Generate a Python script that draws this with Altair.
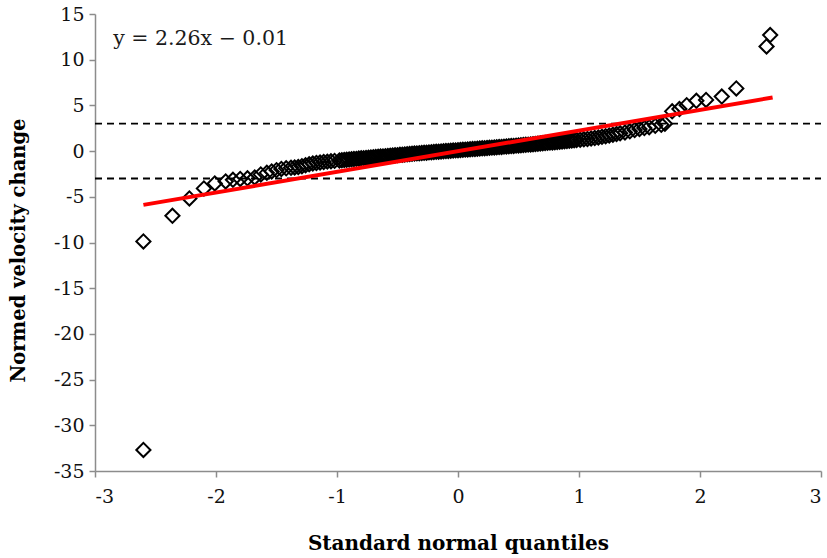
import altair as alt
import pandas as pd

# Normal Q-Q plot of normed velocity change
# theoretical standard normal quantiles (x) and ordered sample values (y)
quantile_x = [
    -2.60, -2.60, -2.36, -2.22, -2.10, -2.01, -1.92, -1.86, -1.80, -1.74, -1.68,
    -1.63, -1.58, -1.54, -1.50, -1.46, -1.42, -1.38, -1.35, -1.32, -1.29, -1.26,
    -1.23, -1.20, -1.17, -1.14, -1.11, -1.08, -1.05, -1.02,
    -0.98, -0.96, -0.94, -0.92, -0.90, -0.88, -0.86, -0.84, -0.82, -0.80,
    -0.78, -0.76, -0.74, -0.72, -0.70, -0.68, -0.66, -0.64, -0.62, -0.60,
    -0.58, -0.56, -0.54, -0.52, -0.50, -0.48, -0.46, -0.44, -0.42, -0.40,
    -0.38, -0.36, -0.34, -0.32, -0.30, -0.28, -0.26, -0.24, -0.22, -0.20,
    -0.18, -0.16, -0.14, -0.12, -0.10, -0.08, -0.06, -0.04, -0.02, 0.00,
    0.02, 0.04, 0.06, 0.08, 0.10, 0.12, 0.14, 0.16, 0.18, 0.20,
    0.22, 0.24, 0.26, 0.28, 0.30, 0.32, 0.34, 0.36, 0.38, 0.40,
    0.42, 0.44, 0.46, 0.48, 0.50, 0.52, 0.54, 0.56, 0.58, 0.60,
    0.62, 0.64, 0.66, 0.68, 0.70, 0.72, 0.74, 0.76, 0.78, 0.80,
    0.82, 0.84, 0.86, 0.88, 0.90, 0.92, 0.94, 0.96, 0.98,
    1.01, 1.04, 1.07, 1.10, 1.13, 1.16, 1.19, 1.22, 1.25, 1.28,
    1.31, 1.34, 1.38, 1.42, 1.46, 1.50, 1.54, 1.58, 1.63, 1.68,
    1.71, 1.77, 1.83, 1.89, 1.97, 2.05, 2.18, 2.30, 2.55, 2.58,
]
velocity_change = [
    -32.70, -9.88, -7.08, -5.18, -4.08, -3.54, -3.32, -3.14, -3.05, -2.98, -2.88,
    -2.55, -2.38, -2.22, -2.08, -1.95, -1.88, -1.83, -1.79, -1.74, -1.65, -1.55,
    -1.45, -1.36, -1.30, -1.25, -1.20, -1.15, -1.11, -1.07,
    -1.03, -1.01, -0.98, -0.95, -0.93, -0.90, -0.87, -0.85, -0.82, -0.79,
    -0.77, -0.75, -0.72, -0.70, -0.67, -0.65, -0.63, -0.60, -0.58, -0.56,
    -0.53, -0.51, -0.48, -0.46, -0.44, -0.41, -0.39, -0.36, -0.34, -0.32,
    -0.30, -0.27, -0.25, -0.23, -0.21, -0.19, -0.17, -0.14, -0.12, -0.10,
    -0.08, -0.06, -0.04, -0.02, 0.00, 0.02, 0.04, 0.06, 0.08, 0.10,
    0.12, 0.14, 0.16, 0.18, 0.20, 0.22, 0.24, 0.26, 0.28, 0.30,
    0.32, 0.34, 0.36, 0.38, 0.40, 0.42, 0.44, 0.46, 0.49, 0.51,
    0.53, 0.55, 0.57, 0.60, 0.62, 0.64, 0.66, 0.69, 0.71, 0.73,
    0.76, 0.78, 0.80, 0.83, 0.85, 0.88, 0.90, 0.93, 0.95, 0.98,
    1.00, 1.03, 1.05, 1.08, 1.11, 1.13, 1.16, 1.19, 1.22,
    1.25, 1.29, 1.33, 1.38, 1.43, 1.49, 1.56, 1.63, 1.71, 1.79,
    1.87, 1.95, 2.04, 2.16, 2.30, 2.42, 2.52, 2.62, 2.76, 2.88,
    3.00, 4.35, 4.60, 5.03, 5.50, 5.60, 5.97, 6.86, 11.45, 12.70,
]

# least-squares fit shown on the chart
slope = 2.26
intercept = -0.01
fit_x = [-2.60, 2.60]

# reference levels at +/- 3
ref_levels = [3, -3]

x_ticks = [-3, -2, -1, 0, 1, 2, 3]
y_ticks = [-35, -30, -25, -20, -15, -10, -5, 0, 5, 10, 15]

points = pd.DataFrame({"q": quantile_x, "v": velocity_change})
fit = pd.DataFrame({"q": fit_x, "v": [slope * q + intercept for q in fit_x]})
refs = pd.DataFrame({"level": ref_levels, "x0": [-3, -3], "x1": [3, 3]})
eq_label = pd.DataFrame({
    "q": [-2.85], "v": [12.3],
    "text": [f"y = {slope:.2f}x \u2212 {abs(intercept):.2f}"],
})

FONT = "DejaVu Serif"
AXIS_GRAY = "#8c8c8c"

x_scale = alt.Scale(domain=[-3, 3], nice=False, zero=False)
y_scale = alt.Scale(domain=[-35, 15], nice=False, zero=False)

x_axis = alt.Axis(
    title="Standard normal quantiles", values=x_ticks, labelExpr="'' + datum.value",
    grid=False, domainColor=AXIS_GRAY, domainWidth=1.5, tickColor=AXIS_GRAY,
    tickWidth=1.5, tickSize=6, labelFont=FONT, labelFontSize=19, labelColor="#111111",
    labelPadding=10, titleFont=FONT, titleFontSize=20, titleFontWeight="bold",
    titleColor="#000000", titleX=363, titleY=72, titleBaseline="middle",
)
y_axis = alt.Axis(
    title="Normed velocity change", values=y_ticks, labelExpr="'' + datum.value",
    grid=False, domainColor=AXIS_GRAY, domainWidth=1.5, tickColor=AXIS_GRAY,
    tickWidth=1.5, tickSize=6, labelFont=FONT, labelFontSize=19, labelColor="#111111",
    labelPadding=5, titleFont=FONT, titleFontSize=19.5, titleFontWeight="bold",
    titleColor="#000000", titleX=-77, titleY=236, titleBaseline="middle",
)

ref_lines = alt.Chart(refs).mark_rule(
    color="#000000", strokeWidth=1.8, strokeDash=[7, 5]
).encode(
    x=alt.X("x0:Q", scale=x_scale, axis=x_axis),
    x2="x1:Q",
    y=alt.Y("level:Q", scale=y_scale, axis=y_axis),
)

scatter = alt.Chart(points).mark_point(
    shape="diamond", filled=False, color="#000000", strokeWidth=2, size=200, opacity=1
).encode(
    x=alt.X("q:Q", scale=x_scale),
    y=alt.Y("v:Q", scale=y_scale),
)

fit_line = alt.Chart(fit).mark_line(color="#ff0000", strokeWidth=4).encode(
    x=alt.X("q:Q", scale=x_scale),
    y=alt.Y("v:Q", scale=y_scale),
)

equation = alt.Chart(eq_label).mark_text(
    align="left", baseline="middle", font=FONT, fontSize=20.5, color="#1a1a1a"
).encode(
    x=alt.X("q:Q", scale=x_scale),
    y=alt.Y("v:Q", scale=y_scale),
    text="text:N",
)

chart = (
    alt.layer(ref_lines, scatter, fit_line, equation)
    .properties(
        width=726, height=457,
        autosize=alt.AutoSizeParams(type="none"),
        padding={"left": 95, "top": 14, "right": 6, "bottom": 87},
        background="#ffffff",
    )
    .configure_view(strokeWidth=0)
)

chart.save("out.html", embed_options={"renderer": "svg", "actions": False})
